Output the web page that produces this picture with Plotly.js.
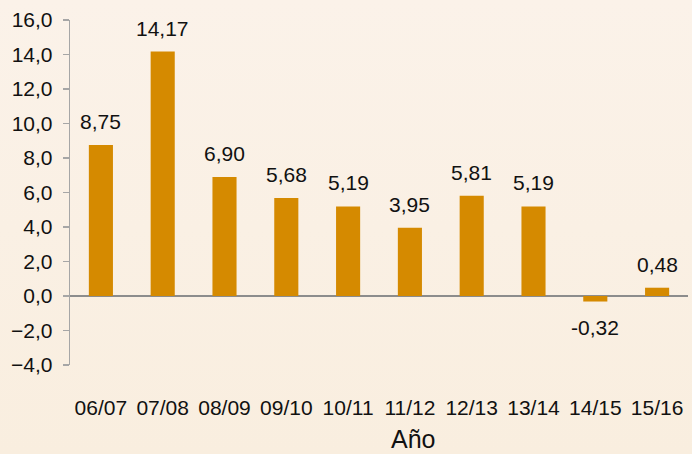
<!DOCTYPE html>
<html>
<head>
<meta charset="utf-8">
<script src="https://cdn.plot.ly/plotly-3.0.1.min.js"></script>
<style>
html,body{margin:0;padding:0;}
body{background:linear-gradient(#FBF2E9,#F9EEDF);width:692px;height:454px;}
#chart{width:692px;height:454px;}
</style>
</head>
<body>
<div id="chart"></div>
<script>
const categories = ["06/07","07/08","08/09","09/10","10/11","11/12","12/13","13/14","14/15","15/16"];
const values = [8.75, 14.17, 6.90, 5.68, 5.19, 3.95, 5.81, 5.19, -0.32, 0.48];
const yTickValues = [-4, -2, 0, 2, 4, 6, 8, 10, 12, 14, 16];
const xTitle = "Año";

const fontFamily = "Liberation Sans, Arial, sans-serif";

const trace = {
  type: "bar",
  x: categories,
  y: values,
  width: 0.39,
  marker: {color: "#D58A00", line: {width: 0}},
  hoverinfo: "skip"
};

const annotations = categories.map((c, i) => {
  const v = values[i];
  return {
    x: c, y: v, xref: "x", yref: "y",
    text: v.toFixed(2).replace(".", ","),
    showarrow: false,
    yanchor: v >= 0 ? "bottom" : "top",
    yshift: v >= 0 ? 10 : -12,
    font: {family: fontFamily, size: 21, color: "#111111"}
  };
});
annotations.push({
  xref: "paper", yref: "paper",
  x: (413 - 70) / 618, y: -(439 - 365) / 345,
  xanchor: "center", yanchor: "middle",
  borderpad: 0,
  text: xTitle, showarrow: false,
  font: {family: fontFamily, size: 25, color: "#111111"}
});

const layout = {
  width: 692, height: 454,
  margin: {l: 70, r: 4, t: 20, b: 89},
  paper_bgcolor: "rgba(0,0,0,0)",
  plot_bgcolor: "rgba(0,0,0,0)",
  separators: ",.",
  showlegend: false,
  font: {family: fontFamily, color: "#111111"},
  xaxis: {
    type: "category",
    showgrid: false, zeroline: false, showline: false,
    ticks: "",
    ticklabelstandoff: 28,
    tickfont: {family: fontFamily, size: 21, color: "#111111"},
    fixedrange: true
  },
  yaxis: {
    range: [-4, 16],
    tickvals: yTickValues,
    tickformat: ".1f",
    showgrid: false,
    zeroline: true, zerolinecolor: "#8c8c8c", zerolinewidth: 1.3,
    showline: true, linecolor: "#a6a6a6", linewidth: 1.3,
    ticks: "outside", ticklen: 6, tickcolor: "#a6a6a6", tickwidth: 1.3,
    ticklabelstandoff: 6,
    tickfont: {family: fontFamily, size: 21, color: "#111111"},
    fixedrange: true
  },
  annotations: annotations,
  bargap: 0.6
};

Plotly.newPlot("chart", [trace], layout, {displayModeBar: false, staticPlot: true});
</script>
</body>
</html>
